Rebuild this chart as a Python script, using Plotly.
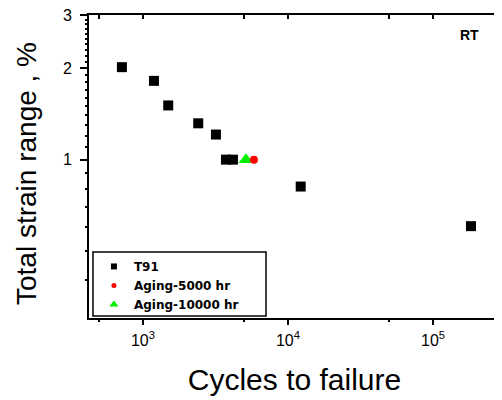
import plotly.graph_objects as go

# Data
t91_cycles = [716, 1191, 1494, 2405, 3187, 3736, 4176, 12240, 182800]
t91_strain = [2.02, 1.82, 1.51, 1.318, 1.21, 1.0, 1.0, 0.815, 0.603]
aging5000_cycles = [5826]
aging5000_strain = [1.0]
aging10000_cycles = [5130]
aging10000_strain = [1.0]

x_tickvals = [1000, 10000, 100000]
x_ticktext = ["10<sup>3</sup>", "10<sup>4</sup>", "10<sup>5</sup>"]
x_minor = [500, 5000, 50000]
y_tickvals = [1, 2, 3]
y_ticktext = ["1", "2", "3"]
y_minor = [0.4, 0.5, 0.6, 0.7, 0.8, 0.9, 1.1, 1.2, 1.3, 1.4, 1.5, 1.6, 1.7, 1.8, 1.9,
           2.1, 2.2, 2.3, 2.4, 2.5, 2.6, 2.7, 2.8, 2.9]

X_RANGE = [2.628, 5.462]
Y_RANGE = [-0.523, 0.4776]

FONT = "Liberation Sans, Arial, sans-serif"
LEGFONT = "DejaVu Sans, sans-serif"
GREEN = "#00ee00"

fig = go.Figure()
# data traces
fig.add_trace(go.Scatter(x=t91_cycles, y=t91_strain, mode="markers", name="T91",
                         showlegend=False,
                         marker=dict(symbol="square", size=10, color="black")))
fig.add_trace(go.Scatter(x=aging10000_cycles, y=aging10000_strain, mode="markers",
                         name="Aging-10000 hr", showlegend=False,
                         marker=dict(symbol="triangle-up", size=13, color=GREEN)))
fig.add_trace(go.Scatter(x=aging5000_cycles, y=aging5000_strain, mode="markers",
                         name="Aging-5000 hr", showlegend=False,
                         marker=dict(symbol="circle", size=8, color="red")))
# legend entries with small symbols (no data); they also anchor the tick-only axes
fig.add_trace(go.Scatter(x=[None], y=[None], mode="markers", name="T91", legendrank=1,
                         xaxis="x2", yaxis="y",
                         marker=dict(symbol="square", size=6, color="black")))
fig.add_trace(go.Scatter(x=[None], y=[None], mode="markers", name="Aging-5000 hr", legendrank=2,
                         xaxis="x3", yaxis="y",
                         marker=dict(symbol="circle", size=5, color="red")))
fig.add_trace(go.Scatter(x=[None], y=[None], mode="markers", name="Aging-10000 hr", legendrank=3,
                         xaxis="x", yaxis="y2",
                         marker=dict(symbol="triangle-up", size=8, color=GREEN)))
fig.add_trace(go.Scatter(x=[None], y=[None], mode="markers", showlegend=False,
                         xaxis="x", yaxis="y3", hoverinfo="skip"))

tickonly = dict(showline=False, showgrid=False, zeroline=False, showticklabels=False,
                tickmode="array", tickcolor="black", tickwidth=1.5, automargin=False,
                type="log")

fig.update_layout(
    width=494, height=392,
    margin=dict(l=81, r=2, t=7, b=82, autoexpand=False),
    plot_bgcolor="white", paper_bgcolor="white",
    xaxis=dict(type="log", range=X_RANGE, tickmode="array",
               tickvals=x_tickvals, ticktext=x_ticktext,
               showline=True, linecolor="black", linewidth=2, mirror=True,
               ticks="outside", ticklen=5, tickwidth=1.5, tickcolor="black",
               ticklabelstandoff=2, ticklabeloverflow="allow",
               showgrid=False, zeroline=False, automargin=False,
               tickfont=dict(family=FONT, size=16, color="black"),
               title=dict(text="Cycles to failure",
                          font=dict(family=FONT, size=30, color="black"), standoff=21)),
    yaxis=dict(type="log", range=Y_RANGE, tickmode="array",
               tickvals=y_tickvals, ticktext=y_ticktext,
               showline=True, linecolor="black", linewidth=2, mirror=True,
               ticks="outside", ticklen=7, tickwidth=1.5, tickcolor="black",
               ticklabelstandoff=5, ticklabeloverflow="allow",
               showgrid=False, zeroline=False, automargin=False,
               tickfont=dict(family=FONT, size=16, color="black")),
    # minor ticks along the bottom
    xaxis2=dict(overlaying="x", anchor="y", side="bottom", range=X_RANGE,
                tickvals=x_minor, ticks="outside", ticklen=3, **tickonly),
    # ticks along the top (pointing inward)
    xaxis3=dict(overlaying="x", anchor="y", side="top", range=X_RANGE,
                tickvals=x_tickvals + x_minor, ticks="inside", ticklen=4, **tickonly),
    # minor ticks along the left
    yaxis2=dict(overlaying="y", anchor="x", side="left", range=Y_RANGE,
                tickvals=y_minor, ticks="outside", ticklen=3, **tickonly),
    # ticks along the right (pointing inward)
    yaxis3=dict(overlaying="y", anchor="x", side="right", range=Y_RANGE,
                tickvals=y_tickvals, ticks="inside", ticklen=3, **tickonly),
    showlegend=True,
    legend=dict(x=0.012, y=0.218, xanchor="left", yanchor="top",
                bgcolor="rgba(0,0,0,0)", borderwidth=0,
                font=dict(family=LEGFONT, size=12, color="black", weight="bold")),
    shapes=[dict(type="rect", xref="paper", yref="paper",
                 x0=0.0097, x1=0.4307, y0=0.0066, y1=0.218,
                 line=dict(color="black", width=1.5))],
    annotations=[
        dict(text="<b>RT</b>", xref="paper", yref="paper", x=0.927, y=0.934,
             xanchor="center", yanchor="middle",
             showarrow=False, font=dict(family=FONT, size=14, color="black")),
        # y-axis title
        dict(text="Total strain range , %", xref="paper", yref="paper",
             x=-0.1533, y=0.4785, xanchor="center", yanchor="middle", textangle=-90,
             borderpad=0,
             showarrow=False, font=dict(family=FONT, size=28, color="black")),
    ],
)

fig.write_html("out.html")
